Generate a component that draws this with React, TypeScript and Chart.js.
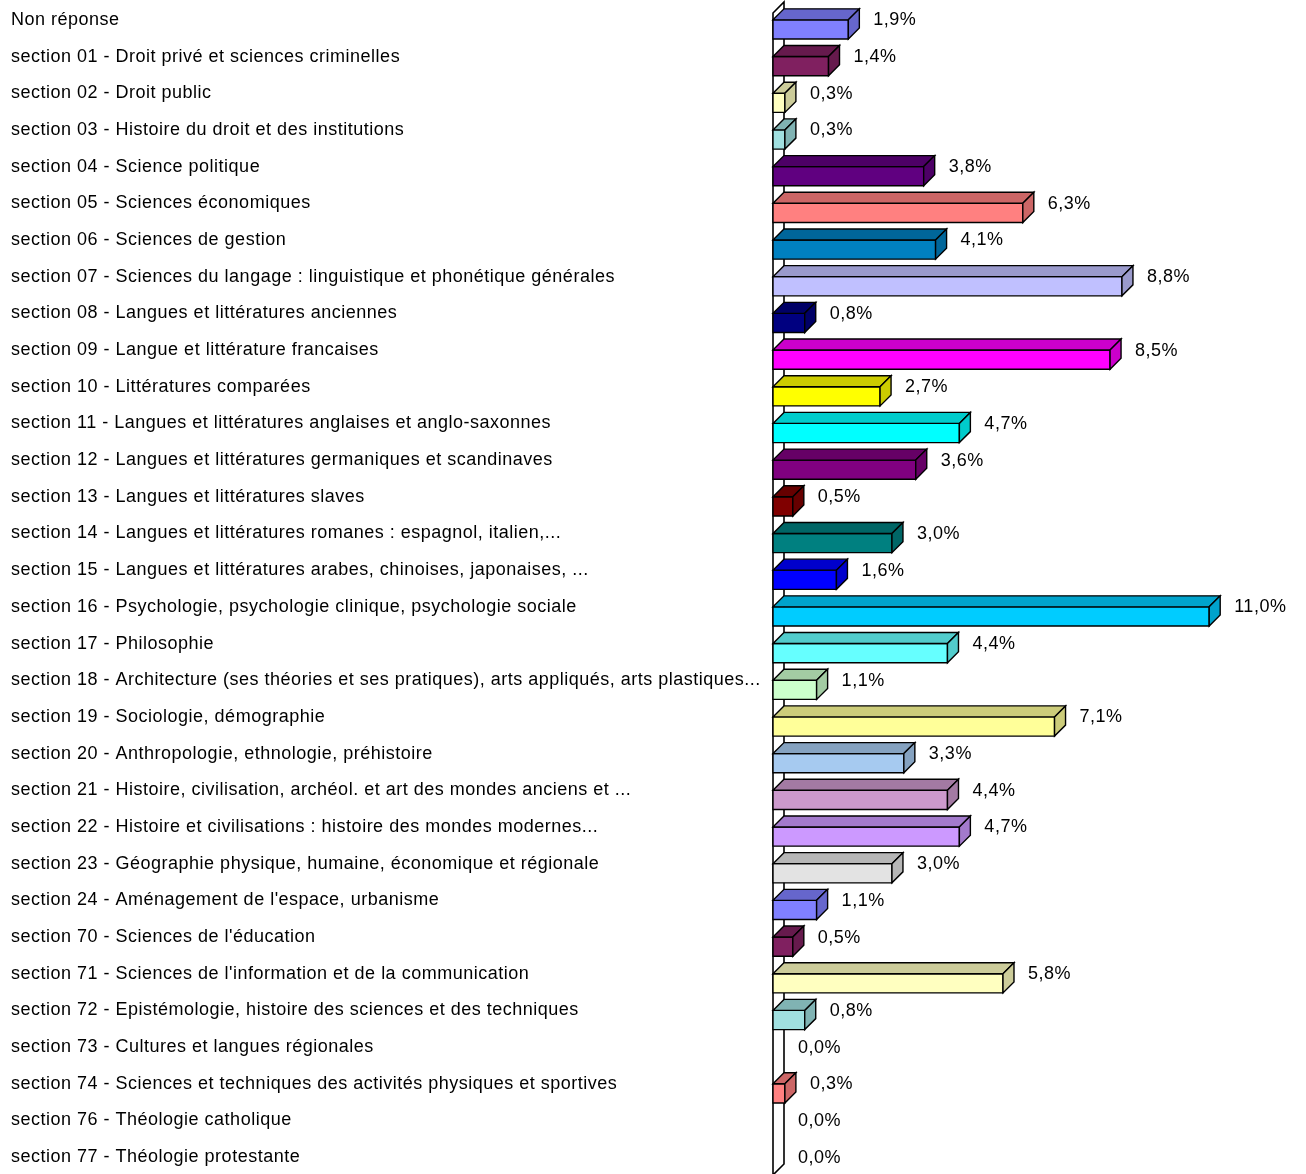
import React, { useEffect, useRef } from 'react';
import { Chart, registerables } from 'chart.js';

Chart.register(...registerables);

const categories: string[] = [
  'Non réponse',
  'section 01 - Droit privé et sciences criminelles',
  'section 02 - Droit public',
  'section 03 - Histoire du droit et des institutions',
  'section 04 - Science politique',
  'section 05 - Sciences économiques',
  'section 06 - Sciences de gestion',
  'section 07 - Sciences du langage : linguistique et phonétique générales',
  'section 08 - Langues et littératures anciennes',
  'section 09 - Langue et littérature francaises',
  'section 10 - Littératures comparées',
  'section 11 - Langues et littératures anglaises et anglo-saxonnes',
  'section 12 - Langues et littératures germaniques et scandinaves',
  'section 13 - Langues et littératures slaves',
  'section 14 - Langues et littératures romanes : espagnol, italien,...',
  'section 15 - Langues et littératures arabes, chinoises, japonaises, ...',
  'section 16 - Psychologie, psychologie clinique, psychologie sociale',
  'section 17 - Philosophie',
  'section 18 - Architecture (ses théories et ses pratiques), arts appliqués, arts plastiques...',
  'section 19 - Sociologie, démographie',
  'section 20 - Anthropologie, ethnologie, préhistoire',
  'section 21 - Histoire, civilisation, archéol. et art des mondes anciens et ...',
  'section 22 - Histoire et civilisations : histoire des mondes modernes...',
  'section 23 - Géographie physique, humaine, économique et régionale',
  "section 24 - Aménagement de l'espace, urbanisme",
  "section 70 - Sciences de l'éducation",
  "section 71 - Sciences de l'information et de la communication",
  'section 72 - Epistémologie, histoire des sciences et des techniques',
  'section 73 - Cultures et langues régionales',
  'section 74 - Sciences et techniques des activités physiques et sportives',
  'section 76 - Théologie catholique',
  'section 77 - Théologie protestante',
];

const values: number[] = [
  1.9, 1.4, 0.3, 0.3, 3.8, 6.3, 4.1, 8.8, 0.8, 8.5, 2.7, 4.7, 3.6, 0.5, 3.0, 1.6,
  11.0, 4.4, 1.1, 7.1, 3.3, 4.4, 4.7, 3.0, 1.1, 0.5, 5.8, 0.8, 0.0, 0.3, 0.0, 0.0,
];

const palette: string[] = [
  '#8080FF', '#802060', '#FFFFC0', '#A0E0E0', '#600080', '#FF8080', '#0080C0', '#C0C0FF',
  '#000080', '#FF00FF', '#FFFF00', '#00FFFF', '#800080', '#800000', '#008080', '#0000FF',
  '#00CCFF', '#66FFFF', '#CCFFCC', '#FFFF99', '#A6CAF0', '#CC99CC', '#CC99FF', '#E3E3E3',
];

const xMax = 13;
const FONT_FAMILY = '"Liberation Sans", Arial, sans-serif';
const FONT_SIZE = 18;
const LETTER_SPACING = '0.5px';

function shade(hex: string, f: number): string {
  const n = parseInt(hex.slice(1), 16);
  const r = Math.round(((n >> 16) & 255) * f);
  const g = Math.round(((n >> 8) & 255) * f);
  const b = Math.round((n & 255) * f);
  return `rgb(${r},${g},${b})`;
}

function fmt(v: number): string {
  return v.toFixed(1).replace('.', ',') + '%';
}

const spacing = {
  id: 'spacing',
  beforeDraw(chart: any) {
    (chart.ctx as any).letterSpacing = LETTER_SPACING;
  },
  afterDraw(chart: any) {
    (chart.ctx as any).letterSpacing = '0px';
  },
};

const bars3d = {
  id: 'bars3d',
  afterDatasetsDraw(chart: any) {
    const ctx: CanvasRenderingContext2D = chart.ctx;
    const meta = chart.getDatasetMeta(0);
    const xs = chart.scales.x;
    const area = chart.chartArea;
    const x0 = xs.getPixelForValue(0);
    const D = 11;
    ctx.save();
    (ctx as any).letterSpacing = LETTER_SPACING;
    ctx.lineJoin = 'miter';
    // wall
    const wt = area.top + 13;
    const wb = area.bottom + 1;
    ctx.strokeStyle = '#000';
    ctx.lineWidth = 1.6;
    ctx.beginPath();
    ctx.moveTo(x0, wb);
    ctx.lineTo(x0, wt);
    ctx.lineTo(x0 + D, wt - D);
    ctx.lineTo(x0 + D, wb - D);
    ctx.lineTo(x0, wb);
    ctx.stroke();

    meta.data.forEach((el: any, i: number) => {
      const v = values[i];
      const x1 = el.x;
      const yc = el.y;
      const ft = yc + 1.5;
      const fb = yc + 20.7;
      const col = palette[i % palette.length];
      if (v > 0) {
        ctx.lineWidth = 1.4;
        ctx.strokeStyle = '#000';
        ctx.fillStyle = col;
        ctx.beginPath();
        ctx.rect(x0, ft, x1 - x0, fb - ft);
        ctx.fill();
        ctx.stroke();
        ctx.fillStyle = shade(col, 0.8);
        ctx.beginPath();
        ctx.moveTo(x0, ft);
        ctx.lineTo(x0 + D, ft - D);
        ctx.lineTo(x1 + D, ft - D);
        ctx.lineTo(x1, ft);
        ctx.closePath();
        ctx.fill();
        ctx.stroke();
        ctx.fillStyle = shade(col, 0.8);
        ctx.beginPath();
        ctx.moveTo(x1, ft);
        ctx.lineTo(x1 + D, ft - D);
        ctx.lineTo(x1 + D, fb - D);
        ctx.lineTo(x1, fb);
        ctx.closePath();
        ctx.fill();
        ctx.stroke();
      }
      ctx.fillStyle = '#000';
      ctx.font = `${FONT_SIZE}px ${FONT_FAMILY}`;
      ctx.textAlign = 'left';
      ctx.textBaseline = 'middle';
      ctx.fillText(fmt(v), x1 + D + 14, yc + 2);
    });
    ctx.restore();
  },
};

export default function App() {
  const ref = useRef<HTMLCanvasElement | null>(null);
  useEffect(() => {
    if (!ref.current) return;
    const chart = new Chart(ref.current, {
      type: 'bar',
      data: {
        labels: categories,
        datasets: [
          {
            data: values,
            backgroundColor: 'rgba(0,0,0,0)',
            borderWidth: 0,
          },
        ],
      },
      options: {
        indexAxis: 'y',
        animation: false,
        responsive: false,
        maintainAspectRatio: false,
        layout: { padding: { left: 11, right: 17.5, top: 0, bottom: 0 } },
        plugins: { legend: { display: false }, tooltip: { enabled: false } },
        scales: {
          x: { display: false, min: 0, max: xMax },
          y: {
            type: 'category',
            grid: { display: false },
            border: { display: false },
            afterFit: (s: any) => {
              s.width = 762;
              s.paddingTop = 0;
              s.paddingBottom = 0;
            },
            ticks: {
              crossAlign: 'far',
              padding: 0,
              labelOffset: 1.5,
              autoSkip: false,
              color: '#000',
              font: { family: FONT_FAMILY, size: FONT_SIZE },
            },
          },
        },
      },
      plugins: [spacing, bars3d],
    });
    return () => chart.destroy();
  }, []);
  return (
    <div style={{ position: 'absolute', left: 0, top: 0, width: 1306, height: 1174, background: '#fff' }}>
      <canvas ref={ref} width={1306} height={1174} style={{ display: 'block' }} />
    </div>
  );
}
